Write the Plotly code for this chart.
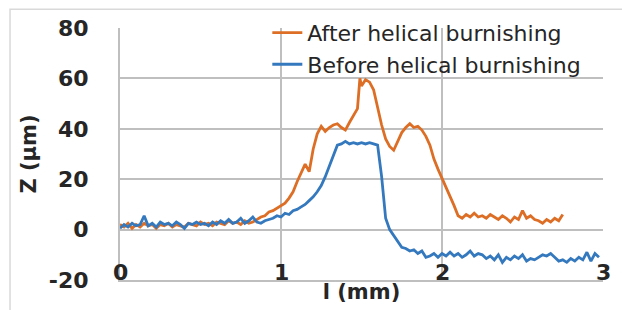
import plotly.graph_objects as go

# ---- data ----
before_x = [0.000, 0.025, 0.050, 0.075, 0.100, 0.125, 0.150, 0.175, 0.200, 0.225,
            0.250, 0.275, 0.300, 0.325, 0.350, 0.375, 0.400, 0.425, 0.450, 0.475,
            0.500, 0.525, 0.550, 0.575, 0.600, 0.625, 0.650, 0.675, 0.700, 0.725,
            0.750, 0.775, 0.800, 0.825, 0.850, 0.875, 0.900, 0.925, 0.950, 0.975,
            1.000, 1.025, 1.050, 1.075, 1.100, 1.125, 1.150, 1.175, 1.200, 1.225,
            1.250, 1.275, 1.300, 1.325, 1.350, 1.375, 1.400, 1.425, 1.450, 1.475,
            1.500, 1.525, 1.550, 1.575, 1.600, 1.625, 1.650, 1.675, 1.700, 1.725,
            1.750, 1.775, 1.800, 1.825, 1.850, 1.875, 1.900, 1.925, 1.950, 1.975,
            2.000, 2.025, 2.050, 2.075, 2.100, 2.125, 2.150, 2.175, 2.200, 2.225,
            2.250, 2.275, 2.300, 2.325, 2.350, 2.375, 2.400, 2.425, 2.450, 2.475,
            2.500, 2.525, 2.550, 2.575, 2.600, 2.625, 2.650, 2.675, 2.700, 2.725,
            2.750, 2.775, 2.800, 2.825, 2.850, 2.875, 2.900, 2.925, 2.950, 2.975]
before_z = [0.5, 2.0, 1.0, 2.5, 1.5, 2.0, 5.5, 1.5, 2.5, 1.0,
            3.0, 2.0, 2.5, 1.5, 3.0, 2.0, 0.5, 2.5, 2.0, 3.0,
            2.0, 2.5, 1.5, 3.0, 2.0, 3.5, 2.5, 4.0, 2.5, 3.0,
            4.5, 2.5, 3.5, 5.0, 3.0, 2.5, 3.5, 4.0, 4.5, 5.5,
            5.0, 6.5, 6.0, 7.5, 8.0, 9.0, 10.0, 11.5, 13.0, 15.0,
            17.5, 21.0, 25.0, 29.5, 33.5, 34.0, 35.0, 34.0, 34.5, 34.0,
            34.5, 34.0, 34.5, 34.0, 33.5, 21.0, 4.5, 0.0, -2.5, -4.5,
            -7.0, -7.5, -8.5, -8.0, -9.5, -8.5, -11.0, -10.5, -9.5, -11.0,
            -9.5, -10.5, -9.0, -10.5, -9.5, -11.0, -10.0, -8.5, -10.5, -9.5,
            -10.0, -11.5, -10.5, -12.0, -10.0, -13.0, -11.0, -12.0, -10.5, -11.5,
            -10.0, -12.5, -11.5, -12.0, -11.0, -10.0, -10.5, -9.5, -11.0, -12.5,
            -12.0, -13.0, -11.5, -12.5, -11.0, -12.0, -9.0, -12.5, -9.5, -11.0]

after_x = [0.000, 0.025, 0.050, 0.075, 0.100, 0.125, 0.150, 0.175, 0.200, 0.225,
           0.250, 0.275, 0.300, 0.325, 0.350, 0.375, 0.400, 0.425, 0.450, 0.475,
           0.500, 0.525, 0.550, 0.575, 0.600, 0.625, 0.650, 0.675, 0.700, 0.725,
           0.750, 0.775, 0.800, 0.825, 0.850, 0.875, 0.900, 0.925, 0.950, 0.975,
           1.000, 1.025, 1.050, 1.075, 1.100, 1.125, 1.150, 1.175, 1.200, 1.225,
           1.250, 1.275, 1.300, 1.325, 1.350, 1.375, 1.400, 1.425, 1.450, 1.475,
           1.490, 1.500, 1.525, 1.550, 1.575, 1.600, 1.625, 1.650, 1.675, 1.700,
           1.725, 1.750, 1.775, 1.800, 1.825, 1.850, 1.875, 1.900, 1.925, 1.950,
           1.975, 2.000, 2.025, 2.050, 2.075, 2.100, 2.125, 2.150, 2.175, 2.200,
           2.225, 2.250, 2.275, 2.300, 2.325, 2.350, 2.375, 2.400, 2.425, 2.450,
           2.475, 2.500, 2.525, 2.550, 2.575, 2.600, 2.625, 2.650, 2.675, 2.700,
           2.725, 2.750]
after_z = [2.0, 1.0, 2.5, 0.5, 2.0, 1.0, 2.5, 1.5, 2.0, 0.5,
           2.0, 1.5, 2.5, 1.0, 2.0, 1.5, 1.0, 2.5, 2.0, 1.5,
           3.0, 2.0, 2.5, 1.5, 3.0, 2.5, 2.0, 3.5, 2.5, 3.0,
           2.0, 3.5, 2.5, 3.0, 4.0, 5.0, 5.5, 7.0, 7.5, 8.5,
           9.5, 10.5, 12.5, 15.0, 19.0, 22.5, 26.0, 23.0, 32.0, 38.0,
           41.0, 39.0, 40.5, 41.5, 42.0, 40.5, 39.5, 42.5, 45.5, 48.0,
           60.0, 57.0, 59.5, 58.5, 55.5, 48.0, 41.5, 36.0, 33.0, 31.5,
           35.0, 38.5, 40.5, 42.0, 40.5, 41.0, 39.5, 37.0, 33.5, 28.0,
           24.0, 20.5, 16.5, 13.5, 9.5, 5.5, 4.5, 6.0, 5.0, 6.5,
           5.0, 5.5, 4.5, 6.0, 5.0, 4.0, 5.5, 4.5, 3.0, 5.0,
           4.0, 7.5, 4.5, 5.5, 4.0, 3.5, 2.5, 4.0, 3.0, 4.5,
           3.5, 6.0]

x_ticks = [0, 1, 2, 3]
x_tick_labels = ["0", "1", "2", "3"]
y_ticks = [-20, 0, 20, 40, 60, 80]
y_tick_labels = ["-20", "0", "20", "40", "60", "80"]

series_names = ["After helical burnishing", "Before helical burnishing"]
colors = ["#DD6E25", "#3478BE"]

grid_col = "#BFBFBF"
text_col = "#262626"
tick_font = dict(family="DejaVu Sans", size=22, color=text_col, weight="bold")
title_font = dict(family="DejaVu Sans", size=21, color=text_col, weight="bold")

fig = go.Figure()
fig.add_trace(go.Scatter(x=after_x, y=after_z, mode="lines", name=series_names[0],
                         legendgroup="a",
                         line=dict(color=colors[0], width=2.8)))
fig.add_trace(go.Scatter(x=before_x, y=before_z, mode="lines", name=series_names[1],
                         legendgroup="b",
                         line=dict(color=colors[1], width=2.8)))

# x tick labels sit just above the bottom axis line, inside the plot
annotations = [dict(x=t, y=y_ticks[0], xref="x", yref="y", text=lab,
                    showarrow=False, xanchor="center", yanchor="bottom",
                    yshift=-7, font=tick_font)
               for t, lab in zip(x_ticks, x_tick_labels)]

fig.update_layout(
    width=622, height=310,
    margin=dict(l=120, r=19, t=23, b=30),
    paper_bgcolor="white", plot_bgcolor="white",
    showlegend=True,
    legend=dict(x=0.305, y=1.064, xanchor="left", yanchor="top",
                bgcolor="rgba(255,255,255,0)",
                font=dict(family="DejaVu Sans", size=22, color=text_col),
                tracegroupgap=9, traceorder="normal"),
    xaxis=dict(range=[0, 3], tickvals=x_ticks, ticktext=x_tick_labels,
               showticklabels=False, automargin=False,
               showgrid=True, gridcolor=grid_col, gridwidth=2,
               showline=True, linecolor=grid_col, linewidth=2,
               zeroline=False, ticks="",
               title=dict(text="l (mm)", standoff=3, font=title_font)),
    yaxis=dict(range=[-20, 80], tickvals=y_ticks, ticktext=y_tick_labels,
               automargin=False,
               showgrid=True, gridcolor=grid_col, gridwidth=2,
               showline=True, linecolor=grid_col, linewidth=2,
               zeroline=False, ticks="outside", ticklen=25,
               tickcolor="rgba(0,0,0,0)",
               tickfont=tick_font,
               title=dict(text="Z (µm)", standoff=6, font=title_font)),
    annotations=annotations,
    shapes=[dict(type="rect", xref="paper", yref="paper",
                 x0=-0.2277, x1=1.2, y0=-0.3, y1=1.074,
                 line=dict(color="#D9D9D9", width=1.5), layer="above")],
)

fig.write_html("out.html", config={"displayModeBar": False},
               post_script="document.body.style.margin='0';document.body.style.overflow='hidden';")
